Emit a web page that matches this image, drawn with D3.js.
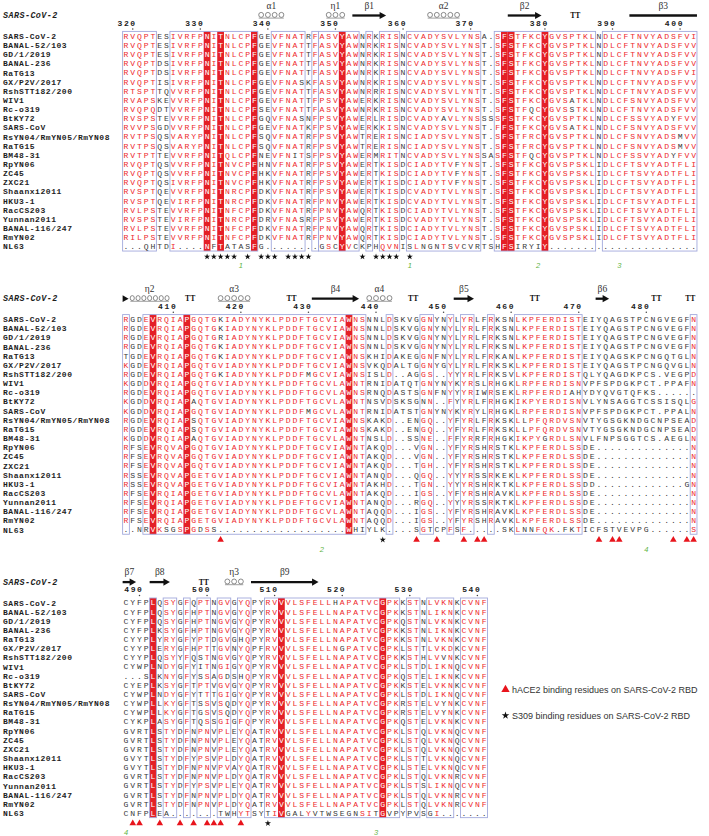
<!DOCTYPE html>
<html><head><meta charset="utf-8">
<script src="https://cdnjs.cloudflare.com/ajax/libs/d3/7.8.5/d3.min.js"></script>
<style>html,body{margin:0;padding:0;background:#fff;}svg{display:block}</style>
</head><body>
<svg id="chart" width="709" height="836"></svg>
<script>
// ---------------- DATA ----------------
const names = ["SARS-CoV-2","BANAL-52/103","GD/1/2019","BANAL-236","RaTG13","GX/P2V/2017","RshSTT182/200","WIV1","Rc-o319","BtKY72","SARS-CoV","RsYN04/RmYN05/RmYN08","RaTG15","BM48-31","RpYN06","ZC45","ZXC21","Shaanxi2011","HKU3-1","RacCS203","Yunnan2011","BANAL-116/247","RmYN02","NL63"];

const seqBlock1 = [
"RVQPTESIVRFPNITNLCPFGEVFNA"+"TRFASVYAWNRKRISNCVADYSVLYNSA.S"+"FSTFKCYGVSPTKLNDLCFTNVYADSFVI",
"RVQPTESIVRFPNITNLCPFGEVFNA"+"TTFASVYAWNRKRISNCVADYSVLYNST.S"+"FSTFKCYGVSPTKLNDLCFTNVYADSFVV",
"RVQPTESIVRFPNITNLCPFGEVFNA"+"TTFASVYAWNRKRISNCVADYSVLYNST.S"+"FSTFKCYGVSPTKLNDLCFTNVYADSFVV",
"RVQPTDSIVRFPNITNLCPFGEVFNA"+"TTFASVYAWNRKRISNCVADYSVLYNST.S"+"FSTFKCYGVSPTKLNDLCFTNVYADSFVV",
"RVQPTDSIVRFPNITNLCPFGEVFNA"+"TTFASVYAWNRKRISNCVADYSVLYNST.S"+"FSTFKCYGVSPTKLNDLCFTNVYADSFVI",
"RVQPTISIVRFPNITNLCPFGEVFNA"+"SKFASVYAWNRKRISNCVADYSVLYNST.S"+"FSTFKCYGVSPTKLNDLCFTNVYADSFVV",
"RTSPTTQVVRFPNITNLCPFGEVFNA"+"TTFASVYAWNRRRISNCVADYSVLYNTT.S"+"FSTFKCYGVSPTKLNDLCFTNVYADSFVV",
"RVAPSKEVVRFPNITNLCPFGEVFNA"+"TTFPSVYAWERKRISNCVADYSVLYNST.S"+"FSTFKCYGVSATKLNDLCFSNVYADSFVV",
"RVQPQDTVVRFPNITNLCPFSEVFNA"+"TTFASVYAWNRKRISNCVADYSVLYNST.S"+"FSTFQCYGVSSTKLNDLCFTNVYADSFVV",
"RVSPSTEVVRFPNITNLCPFGQVFNA"+"SNFPSVYAWERLRISDCVADYAVLYNSSSS"+"FSTFKCYGVSPTKLNDLCFSSVYADYFVV",
"RVVPSGDVVRFPNITNLCPFGEVFNA"+"TKFPSVYAWERKKISNCVADYSVLYNST.F"+"FSTFKCYGVSATKLNDLCFSNVYADSFVV",
"RVTPSQSVARYPNITNLCPFSQVFNA"+"TRFPSVYAWTRERISNCIADYSVLYNST.S"+"FSTFRCYGVSPTKLNDLCFSNVYADSMVV",
"RVTPSQSVARYPNITNLCPFSQVFNA"+"TRFPSVYAWTRERISNCIADYSVLYNST.S"+"FSTFRCYGVSPTKLNDLCFSNVYADSMVV",
"RVTPTTEVVRFPNITQLCPFNEVFNI"+"TSFPSVYAWERMRITNCVADYSVLYNSSAS"+"FSTFQCYGVSPTKLNDLCFSSVYADYFVV",
"RVQPTQSVVRFPNITNVCPFHNVFNA"+"TRFPSVYAWERTKISDCIADYTVFYNST.S"+"FSTFKCYGVSPSKLIDLCFTSVYADTFLI",
"RVQPTQSVVRFPNITNVCPFHKVFNA"+"TRFPSVYAWERTKISDCIADYTVFYNST.S"+"FSTFKCYGVSPSKLIDLCFTSVYADTFLI",
"RVQPTQSIVRFPNITNVCPFHKVFNA"+"TRFPSVYAWERTKISDCIADYTVFYNST.S"+"FSTFKCYGVSPSKLIDLCFTSVYADTFLI",
"RVSPTQEVVRFPNITNRCPFDKVFNA"+"TRFPSVYAWERTKISDCVADYTVLYNST.S"+"FSTFKCYGVSPSKLIDLCFTSVYADTFLI",
"RVSPTQEVIRFPNITNRCPFDKVFNA"+"TRFPNVYAWERTKISDCVADYTVLYNST.S"+"FSTFKCYGVSPSKLIDLCFTSVYADTFLI",
"RVLPSTEVVRFPNITNFCPFDKVFNA"+"TRFPNVYAWQRTKISDCIADYTVLYNST.S"+"FSTFKCYGVSPSKLIDLCFTSVYADTFLI",
"RVSPSTEVIRFPNITNRCPFDRVFNA"+"SRFPSVYAWERTKISDCVADYTVLYNST.S"+"FSTFKCYGVSPSKLIDLCFTSVYADTFLI",
"RVLPSTEVVRFPNITNFCPFDKVFNA"+"TRFPNVYAWQRTKISDCIADYTVLYNST.S"+"FSTFKCYGVSPSKLIDLCFTSVYADTFLI",
"RILPSTEVVRFPNITNFCPFDKVFNA"+"TRFPNVYAWQRTKISDCIADYTVLYNST.S"+"FSTFKCYGVSPSKLIDLCFTSVYADTFLI",
"...QHTDI....NFTATASFG....."+"...GSCYVCKPHQVNISLNGNTSVCVRTSH"+"FSIRYIY......................"
];

const seqBlock2 = [
"RGDEVRQIAPGQTGKIADYNYKLPDD"+"FTGCVIAWNSNNLDSKVGGNYNYLYRLFRK"+"SNLKPFERDISTEIYQAGSTPCNGVEGFN",
"RGDEVRQIAPGQTGKIADYNYKLPDD"+"FTGCVIAWNSNNLDSKVGGNYNYLYRLFRK"+"SNLKPFERDISTEIYQAGSTPCNGVEGFN",
"RGDEVRQIAPGQTGRIADYNYKLPDD"+"FTGCVIAWNSNNLDSKVGGNYNYLYRLFRK"+"SNLKPFERDISTEIYQAGSTPCNGVEGFN",
"RGDEVRQIAPGQTGKIADYNYKLPDD"+"FTGCVIAWNSNNLDSKVGGNYNYLYRLFRK"+"SNLKPFERDISTEIYQAGSTPCNGVEGFN",
"TGDEVRQIAPGQTGKIADYNYKLPDD"+"FTGCVIAWNSKHIDAKEGGNFNYLYRLFRK"+"ANLKPFERDISTEIYQAGSKPCNGQTGLN",
"KGDEVRQIAPGQTGVIADYNYKLPDD"+"FTGCVIAWNSVKQDALTGGNYGYLYRLFRK"+"SKLKPFERDISTEIYQAGSTPCNGQVGLN",
"RGDEVRQIAPGQTGKIADYNYKLPDD"+"FMGCVIAWNSISLD..AGGS..YYYRLFRK"+"SVLKPFERDISTQLYQAGDKPCS.VEGPD",
"KGDDVRQIAPGQTGVIADYNYKLPDD"+"FTGCVLAWNTRNIDATQTGNYNYKYRSLRH"+"GKLRPFERDISNVPFSPDGKPCT.PPAFN",
"RGDEVRQIAPGQTGVIADYNYKLPDD"+"FTGCVLAWNSRNQDASTSGNFNYYYRIWRS"+"EKLRPFERDIAHYDYQVGTQFKS......",
"KGDDVRQIAPAQTGVIADYNYKLPDD"+"FTGCVLAWNTNSVDSKSGNN..FYYRLFRH"+"GKIKPYERDISNVLYNSAGGTCSSISQLG",
"KGDDVRQIAPGQTGVIADYNYKLPDD"+"FMGCVLAWNTRNIDATSTGNYNYKYRYLRH"+"GKLRPFERDISNVPFSPDGKPCT.PPALN",
"RGDEVRQIAPSQTGVIADYNYKLPDD"+"FTGCVIAWNSKAKD..ENGQ..YFYRLFRK"+"SKLLPFQRDVSNVTYGSGKNDGCNPSEAD",
"RGDEVRQIAPSQTGVIADYNYKLPDD"+"FTGCVIAWNSKAKD..ENGQ..YFYRLFRK"+"SKLLPFQRDVSNVTYGSGKNDGCNPSEAD",
"KGDDVRQIAPAQTGVIADYNYKLPDD"+"FTGCVLAWNTNSLD..SSNE..FFYRRFRH"+"GKIKPYGRDLSNVLFNPSGGTCS.AEGLN",
"RFSEVRQVAPGQTGVIADYNYKLPDD"+"FTGCVIAWNTAKQD...VGN..YFYRSHRS"+"TKLKPFERDLSSDE..............N",
"RFSEVRQVAPGQTGVIADYNYKLPDD"+"FTGCVIAWNTAKQD...VGN..YFYRSHRS"+"TKLKPFERDLSSDE..............N",
"RFSEVRQVAPGQTGVIADYNYKLPDD"+"FTGCVIAWNTAKQD...TGH..YFYRSHRS"+"TKLKPFERDLSSDE..............N",
"RSSEVRQVAPGETGVIADYNYKLPDD"+"FTGCVIAWNTANQD...QGQ..YYYRSSRK"+"EKLKPFERDLSSDE..............N",
"RSSEVRQVAPGETGVIADYNYKLPDD"+"FTGCVIAWNTAKHD...TGN..YYYRSHRK"+"TKLKPFERDLSSDD.............GN",
"RFSEVRQIAPGETGVIADYNYKLPDD"+"FTGCVLAWNTAKQD...IGS..YFYRSHRA"+"VKLKPFERDLSSDE..............N",
"RFSEVRQIAPGETGVIADYNYKLPDE"+"FTGCVIAWNTANQD...RGQ..YYYRSSRK"+"TKLKPFERDLSSDE..............N",
"RFSEVRQIAPGETGVIADYNYKLPDD"+"FTGCVLAWNTAQQD...IGS..YFYRSHRA"+"VKLKPFERDLSSDE..............N",
"RFSEVRQIAPGETGVIADYNYKLPDD"+"FTGCVLAWNTAQQD...IGS..YFYRSHRA"+"VKLKPFERDLSSDE..............N",
"..NRVKSGSPGDSS............"+".......WHIYLK....SGTCPFSF....."+"SKLNNFQK.FKTICFSTVEVPG......S"
];

const seqBlock3 = [
"CYFPLQSYGFQPTNGVGYQPYRVVVL"+"SFELLHAPATVCGPKKSTNLVKNKCVNF",
"CYFPLQSYGFHPTNGVGYQPYRVVVL"+"SFELLNAPATVCGPKKSTNLIKNKCVNF",
"CYFPLQSYGFHPTNGVGYQPYRVVVL"+"SFELLNAPATVCGPKQSTNLVKNKCVNF",
"CYFPLKSYGFHPTNGVGYQPYRVVVL"+"SFELLNAPATVCGPKKSTNLIKNKCVNF",
"CYYPLYRYGFYPTDGVGHQPYRVVVL"+"SFELLNAPATVCGPKKSTNLVKNKCVNF",
"CYYPLERYGFHPTTGVNYQPFRVVVL"+"SFELLNGPATVCGPKLSTTLVKDKCVNF",
"CYYPLQSYYFQSTNGVGYQPYRVVVL"+"SFELLNAPATVCGPKKSTHLVVNKCVNF",
"CYWPLNDYGFYITNGIGYQPYRVVVL"+"SFELLNAPATVCGPKLSTDLIKNQCVNF",
"...SLKNYGFYSSAGDSHQPYRVVVL"+"SFELLNAPATVCGPKQSTELIKNKCVNF",
"CYEPLKSYGFTPTVGVGYQPYRVVVL"+"SFELLNAPATVCGPKKSTELVKNKCVNF",
"CYWPLNDYGFYTTTGIGYQPYRVVVL"+"SFELLNAPATVCGPKLSTDLIKNQCVNF",
"CYWPLLKYGFTSSVSQDYQPYRVVVL"+"SFELLNAPATVCGPKRSTELVYNKCVNF",
"CYWPLLKYGFTGSVSQDYQPYRVVVL"+"SFELLNAPATVCGPKRSTELVYNKCVNF",
"CYKPLASYGFTQSSGIGFQPYRVVVL"+"SFELLNAPATVCGPKQSTELVKNKCVNF",
"GVRTLSTYDFNPNVPLEYQATRVVVL"+"SFELLNAPATVCGPKLSTQLVKNQCVNF",
"GVRTLSTYDFNPNVPLEYQATRVVVL"+"SFELLNAPATVCGPKLSTQLVKNQCVNF",
"GVRTLSTYDFNPNVPLEYQATRVVVL"+"SFELLNAPATVCGPKLSTQLVKNQCVNF",
"GVYTLSTYDFYPSVPLDYQATRVVVL"+"SFELLNAPATVCGPKLSTTLVKNQCVNF",
"GVYTLSTYDFNPNVPVAYQATRVVVL"+"SFELLNAPATVCGPKLSTELVKNQCVNF",
"GVRTLSTYDFNPNVPLDYQATRVVVL"+"SFELLNAPATVCGPKLSTQLVKNRCVNF",
"GVRTLSTYDFYPSVPLEYQATRVVVL"+"SFELLNAPATVCGPKLSTSLIKNQCVNF",
"GVRTLSTYDFNPNVPLDYQATRVVVL"+"SFELLNAPATVCGPKLSTQLVKNRCVNF",
"GVRTLSTYDFNPNVPLDYQATRVVVL"+"SFELLNAPATVCGPKLSTQLVKNRCVNF",
"CNFPLEA.......TWHYTSYTIVGA"+"LYVTWSEGNSITGVPYPVSGI......."
];

// first SARS-CoV-2 residue number of each block
const blockStart = [319, 403, 488];

// framed (similar) column runs and strictly conserved (red) columns
const boxes1 = [[0,4],[7,19],[22,26],[28,28],[29,34],[36,36],[38,40],[42,52],[55,69],[71,84]];
const fills1 = [12,14,19,32,56,57,62];
const boxes2 = [[0,0],[3,35],[39,39],[44,45],[48,48],[50,51],[54,54],[58,67],[84,84]];
const fills2 = [4,9,33];
const boxes3 = [[4,4],[6,7],[9,9],[11,12],[14,15],[17,18],[21,40],[42,43],[45,48],[50,53]];
const fills3 = [4,23,38];

// residues in framed columns printed black (dissimilar): row -> columns
const black1 = {5:[26],7:[66],8:[60,66],9:[26,47,81],10:[66],11:[82],12:[82],13:[25,60,81],14:[49],15:[49],16:[49],20:[26],
  23:[3,4,13,15,16,17,18,29,31,34,36,42,44,45,46,48,50,51,52,55,58,59,60,61]};
const black2 = {0:[14],1:[14],2:[14],3:[14],4:[0,14],6:[14,27],8:[66,67],9:[10,44],10:[27],11:[10,59],12:[10,59],13:[10,62],
  23:[3,6,7,11,13,34,35,45,59,60,65,66]};
const black3 = {0:[31],4:[17],5:[32],6:[11,47],7:[11],8:[11,15,17],10:[11],11:[11,15,47],12:[11,15,47],13:[11],
  23:[6,14,15,21,24,25,26,28,29,30,31,32,33,34,37,39,40,42,43,45]};

// secondary structure of SARS-CoV-2 RBD (column ranges)
const ss1 = [{t:"h",l:"α1",s:20,e:23},{t:"h",l:"η1",s:30,e:32},{t:"b",l:"β1",s:34,e:38},{t:"h",l:"α2",s:45,e:49},
  {t:"b",l:"β2",s:57,e:61},{t:"T",s:66,e:67},{t:"l",l:"β3",s:75,e:84}];
const ss2 = [{t:"head",s:0,e:0},{t:"h",l:"η2",s:1,e:6,n:7},{t:"T",s:9,e:10},{t:"h",l:"α3",s:14,e:18},{t:"T",s:24,e:25},
  {t:"b",l:"β4",s:28,e:34},{t:"h",l:"α4",s:36,e:39},{t:"T",s:42,e:43},{t:"b",l:"β5",s:49,e:51},{t:"T",s:60,e:61},
  {t:"b",l:"β6",s:70,e:71},{t:"T",s:78,e:79},{t:"T",s:83,e:84}];
const ss3 = [{t:"b",l:"β7",s:0,e:1},{t:"b",l:"β8",s:4,e:6},{t:"T",s:11,e:12},{t:"h",l:"η3",s:15,e:17},{t:"b",l:"β9",s:19,e:28}];

// markers below blocks: hACE2 contacts (triangles), S309 contacts (stars), disulfide numbers
const ace2_1 = [], ace2_2 = [14,43,46,50,52,53,70,72,73,81,83,84], ace2_3 = [1,2,5,8,10,12,13,14,17];
const s309_1 = [12,13,14,15,16,18,20,21,22,24,25,26,27,35,37,38,39,40,42], s309_2 = [38], s309_3 = [21];
const ssbond1 = [[17,"1"],[42,"1"],[61,"2"],[73,"3"]], ssbond2 = [[29,"2"],[77,"4"]], ssbond3 = [[0,"4"],[37,"3"]];

const legendLabels = ["hACE2 binding residues on SARS-CoV-2 RBD","S309 binding residues on SARS-CoV-2 RBD"];

// ---------------- DRAW ----------------
const blocks = [
  {seq:seqBlock1, boxes:boxes1, fills:fills1, black:black1, ss:ss1, tri:ace2_1, star:s309_1, ssb:ssbond1},
  {seq:seqBlock2, boxes:boxes2, fills:fills2, black:black2, ss:ss2, tri:ace2_2, star:s309_2, ssb:ssbond2},
  {seq:seqBlock3, boxes:boxes3, fills:fills3, black:black3, ss:ss3, tri:ace2_3, star:s309_3, ssb:ssbond3}
];

const RED="#ee2a2e", FILL="#e41f26", FRAME="#a2a9dc", INK="#3a3a3a", NAMEINK="#1e1e1e", GREEN="#62b545";
const CW = 6.757;
const colX = d3.scaleLinear().domain([0,84]).range([126, 126+84*CW]);
const blockTop = [36, 319.2, 602.6];
const rowStep = 9.15;
const MONO = "'Liberation Mono','Courier New',monospace";
const svg = d3.select("#chart");

blocks.forEach((blk, bi) => {
  const nRows = blk.seq.length;
  const y = d3.scaleLinear().domain([0, nRows-1]).range([blockTop[bi], blockTop[bi] + (nRows-1)*rowStep]);
  const g = svg.append("g");
  const top = y(0) - 4.6, bot = y(nRows-1) + 4.6;
  const nC = blk.seq[0].length;
  const inBox = new Array(nC).fill(false);
  blk.boxes.forEach(([s,e]) => { for (let c=s;c<=e;c++) inBox[c]=true; });
  const isFill = new Set(blk.fills);

  // red conserved columns
  g.append("g").selectAll("rect").data(blk.fills).join("rect")
    .attr("x", c => colX(c)-CW/2).attr("y", top).attr("width", CW).attr("height", bot-top)
    .attr("fill", FILL);
  // frames
  g.append("g").selectAll("rect").data(blk.boxes).join("rect")
    .attr("x", d => colX(d[0])-CW/2).attr("y", top)
    .attr("width", d => colX(d[1])-colX(d[0])+CW).attr("height", bot-top)
    .attr("fill","none").attr("stroke", FRAME).attr("stroke-width", 0.9);

  // names
  g.append("g").selectAll("text").data(names).join("text")
    .attr("x", 3).attr("y", (d,r) => y(r)+2.9)
    .attr("font-family", MONO).attr("font-weight","bold").attr("font-size", 8)
    .attr("letter-spacing", 0.55)
    .attr("fill", NAMEINK).text(d => d);

  // residues
  const cells = [];
  blk.seq.forEach((s, r) => {
    const blackSet = new Set(blk.black[r] || []);
    for (let c=0;c<s.length;c++) {
      const ch = s[c];
      let col = INK;
      if (ch !== ".") {
        if (isFill.has(c)) col = "#ffffff";
        else if (inBox[c] && !blackSet.has(c)) col = RED;
      }
      cells.push({r, c, ch, col});
    }
  });
  g.append("g").attr("font-family", MONO).attr("font-size", 8.1).attr("text-anchor","middle")
    .selectAll("text").data(cells).join("text")
    .attr("x", d => colX(d.c)).attr("y", d => y(d.r)+2.8)
    .attr("fill", d => d.col).text(d => d.ch);

  // header: title
  const y0 = y(0);
  g.append("text").attr("x", 3).attr("y", y0-18)
    .attr("font-family", MONO).attr("font-style","italic").attr("font-weight","bold").attr("font-size", 8.4)
    .attr("letter-spacing", 0.45)
    .attr("fill", NAMEINK).text(names[0]);

  // ruler from SARS-CoV-2 numbering
  const ref = blk.seq[0];
  let num = blockStart[bi];
  const ticks = [];
  for (let c=0;c<ref.length;c++) {
    if (ref[c] === ".") continue;
    if (num % 10 === 0) ticks.push({c, num});
    num++;
  }
  const tg = g.append("g");
  tg.selectAll("text").data(ticks).join("text")
    .attr("x", d => colX(d.c) - 15.2).attr("y", y0-10.2)
    .attr("font-family", MONO).attr("font-weight","bold").attr("font-size", 8)
    .attr("letter-spacing", 1.6).attr("fill", "#222").text(d => d.num);
  tg.selectAll("circle").data(ticks).join("circle")
    .attr("cx", d => colX(d.c)).attr("cy", y0-7).attr("r", 0.75).attr("fill", "#444");

  // secondary structure
  const sy = y0 - 20.5, ly = y0 - 27.5;
  const sg = g.append("g");
  blk.ss.forEach(el => {
    const x1 = colX(el.s) - CW/2, x2 = colX(el.e) + CW/2, xm = (x1+x2)/2;
    if (el.t === "h") {
      const n = el.n || (el.e - el.s + 1);
      const w = (x2 - x1) / n;
      for (let k=0;k<n;k++) {
        const cx = x1 + (k+0.5)*w;
        sg.append("ellipse").attr("cx", cx).attr("cy", sy-0.6).attr("rx", w*0.36).attr("ry", 2.5)
          .attr("fill","none").attr("stroke","#666").attr("stroke-width",0.75);
      }
      sg.append("line").attr("x1", x1+1).attr("x2", x2-1).attr("y1", sy+2.6).attr("y2", sy+2.6)
        .attr("stroke","#777").attr("stroke-width",0.7);
    } else if (el.t === "b") {
      sg.append("line").attr("x1", x1).attr("x2", x2-5).attr("y1", sy).attr("y2", sy)
        .attr("stroke","#111").attr("stroke-width",2.3);
      sg.append("path").attr("d", `M${x2-6.5},${sy-3.6}L${x2},${sy}L${x2-6.5},${sy+3.6}Z`).attr("fill","#111");
    } else if (el.t === "l") {
      sg.append("line").attr("x1", x1).attr("x2", x2).attr("y1", sy).attr("y2", sy)
        .attr("stroke","#111").attr("stroke-width",2.3);
    } else if (el.t === "head") {
      sg.append("path").attr("d", `M${x1},${sy-3.4}L${x1+6},${sy}L${x1},${sy+3.4}Z`).attr("fill","#111");
    } else if (el.t === "T") {
      sg.append("text").attr("x", xm).attr("y", sy+2.6).attr("text-anchor","middle")
        .attr("font-family","'Liberation Serif','Times New Roman',serif").attr("font-weight","bold").attr("font-size", 7.6)
        .attr("fill","#111").text("TT");
    }
    if (el.l) {
      sg.append("text").attr("x", xm).attr("y", ly).attr("text-anchor","middle")
        .attr("font-family","'Liberation Serif','Times New Roman',serif").attr("font-size", 9.5)
        .attr("fill","#333").text(el.l);
    }
  });

  // bottom markers
  const my = y(nRows-1) + 10.2;
  g.append("g").selectAll("path").data(blk.tri).join("path")
    .attr("transform", c => `translate(${colX(c)},${my})`)
    .attr("d", d3.symbol(d3.symbolTriangle, 19)).attr("fill", "#e8141c");
  g.append("g").selectAll("path").data(blk.star).join("path")
    .attr("transform", c => `translate(${colX(c)},${my})`)
    .attr("d", d3.symbol(d3.symbolStar, 12)).attr("fill", "#111");
  g.append("g").selectAll("text").data(blk.ssb).join("text")
    .attr("x", d => colX(d[0])).attr("y", y(nRows-1) + 22)
    .attr("text-anchor","middle").attr("font-family","'Liberation Sans',Arial,sans-serif")
    .attr("font-style","italic").attr("font-size", 7.5).attr("fill", GREEN).text(d => d[1]);
});

// legend
const lg = svg.append("g").attr("font-family","'Liberation Sans',Arial,sans-serif").attr("font-size", 9).attr("fill","#333");
const legY = [689.5, 715.5];
lg.append("path").attr("transform", `translate(505.5,${legY[0]})`).attr("d", d3.symbol(d3.symbolTriangle, 30)).attr("fill","#e8141c");
lg.append("path").attr("transform", `translate(505.5,${legY[1]})`).attr("d", d3.symbol(d3.symbolStar, 18)).attr("fill","#111");
lg.selectAll("text").data(legendLabels).join("text")
  .attr("x", 512).attr("y", (d,i) => legY[i]+3.2).text(d => d);
</script>
</body></html>
